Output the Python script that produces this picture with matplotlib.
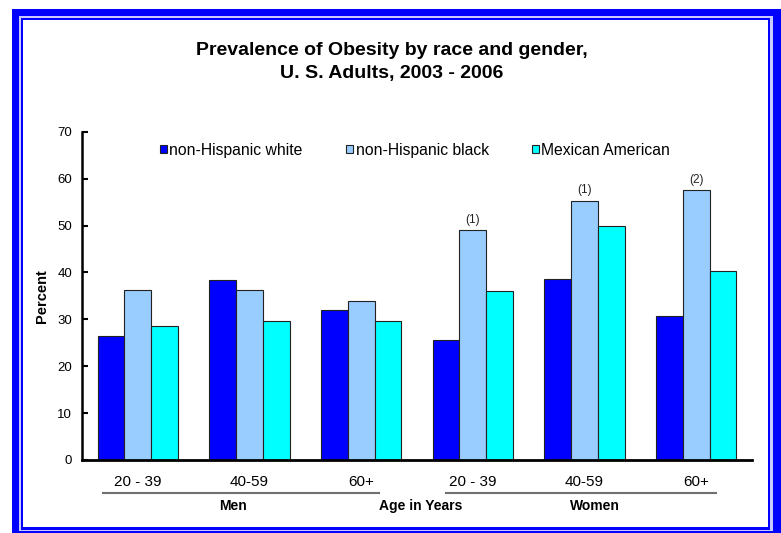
import matplotlib.pyplot as plt
from matplotlib.patches import Rectangle
import numpy as np

plt.rcParams['font.family'] = ['Liberation Sans', 'DejaVu Sans']

groups = ['20 - 39', '40-59', '60+', '20 - 39', '40-59', '60+']
series = ['non-Hispanic white', 'non-Hispanic black', 'Mexican American']
nh_white = [26.5, 38.3, 31.9, 25.6, 38.6, 30.8]
nh_black = [36.2, 36.2, 34.0, 49.1, 55.3, 57.5]
mexican = [28.6, 29.6, 29.7, 36.1, 49.8, 40.2]
notes = ['', '', '', '(1)', '(1)', '(2)']
colors = ['#0000FF', '#99CCFF', '#00FFFF']

W, H = 781, 533
fig = plt.figure(figsize=(W / 100, H / 100), dpi=100)


def px_rect(x0, y0, x1, y1, color):
    # rectangle in pixel coords (origin top-left)
    fig.patches.append(Rectangle((x0 / W, 1 - y1 / H), (x1 - x0) / W, (y1 - y0) / H,
                                 transform=fig.transFigure, color=color, lw=0, zorder=-10))


# frame
px_rect(12, 9, W, H, '#0000FF')
px_rect(19, 16, 773, 531, '#C8C8FF')
px_rect(21, 18, 770, 530, '#0000FF')
px_rect(23, 20, 768, 527, 'white')

ax = fig.add_axes([82 / W, 1 - 460 / H, 670 / W, 328.3 / H])
ax.set_facecolor('none')
ax.set_zorder(5)

x = np.arange(len(groups))
bw = 0.24
for i, (vals, c, lab) in enumerate(zip([nh_white, nh_black, mexican], colors, series)):
    ax.bar(x + (i - 1) * bw, vals, bw, color=c, edgecolor='#222222', linewidth=0.8, label=lab)

for xi, v, n in zip(x, nh_black, notes):
    if n:
        ax.annotate(n, (xi, v), xytext=(0, 3), textcoords='offset points',
                    ha='center', va='bottom', fontsize=8.5, color='#222222')

ax.set_xlim(-0.5, len(groups) - 0.5)
ax.set_ylim(0, 70)
ax.set_yticks(range(0, 71, 10))
ax.set_xticks(x)
ax.set_xticklabels(groups, fontsize=11)
ax.tick_params(axis='x', length=0, pad=11)
ax.tick_params(axis='y', labelsize=9.5, length=4, width=1.5, direction='in', pad=7)
for s in ['top', 'right']:
    ax.spines[s].set_visible(False)
ax.spines['left'].set_linewidth(1.8)
ax.spines['bottom'].set_linewidth(2)
ax.set_ylabel('Percent', fontsize=10.5, fontweight='bold', labelpad=6)

# gender lines and labels under the axis
tr = ax.get_xaxis_transform()
ax.plot([-0.31, 2.16], [-0.101, -0.101], transform=tr, color='#707070', lw=1.5, clip_on=False)
ax.plot([2.76, 5.18], [-0.101, -0.101], transform=tr, color='#707070', lw=1.5, clip_on=False)
ax.text(0.85, -0.14, 'Men', transform=tr, ha='center', va='center', fontsize=10, fontweight='bold')
ax.text(2.53, -0.14, 'Age in Years', transform=tr, ha='center', va='center', fontsize=10, fontweight='bold')
ax.text(4.09, -0.14, 'Women', transform=tr, ha='center', va='center', fontsize=10, fontweight='bold')

ax.legend(loc='center', bbox_to_anchor=(0.497, 0.944), ncol=3, frameon=False,
          fontsize=11.3, handlelength=0.45, handleheight=0.45, handletextpad=0.17,
          columnspacing=2.74)

fig.text(392 / W, 1 - 62 / H, 'Prevalence of Obesity by race and gender,\nU. S. Adults, 2003 - 2006',
         ha='center', va='center', fontsize=14, fontweight='bold', linespacing=1.5)

fig.savefig('out.png', dpi=100)
